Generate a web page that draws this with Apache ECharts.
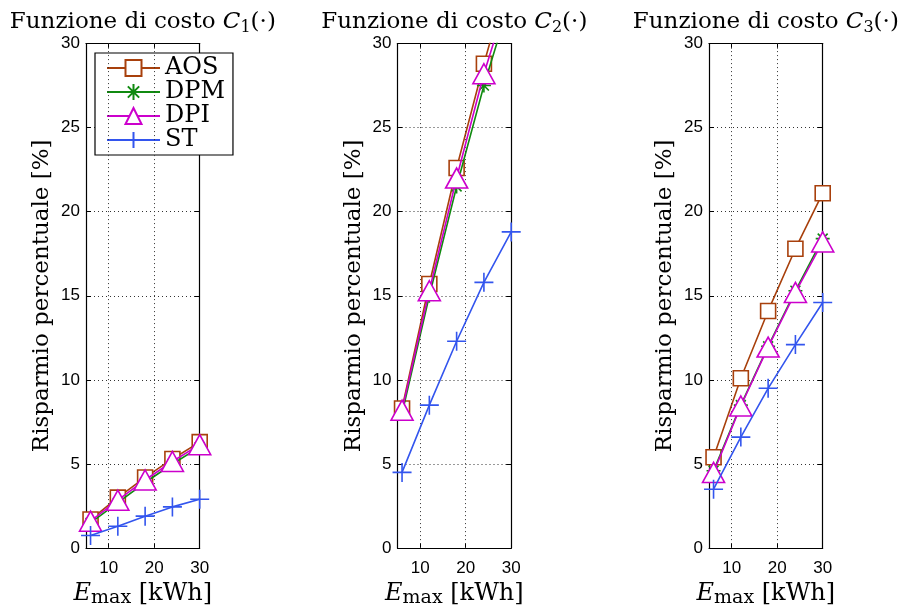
<!DOCTYPE html>
<html>
<head>
<meta charset="utf-8">
<script src="https://cdn.jsdelivr.net/npm/echarts@6/dist/echarts.min.js"></script>
<style>
  html, body { margin: 0; padding: 0; background: #fff; }
  #chart { width: 901px; height: 613px; }
</style>
</head>
<body>
<div id="chart"></div>
<script>
// Storage size (kWh) on the x axis, shared by all three panels
const eMax = [6, 12, 18, 24, 30];
const xTicks = [10, 20, 30];
const xGridLines = [10, 20];

// Percentage savings, cost function C1
const c1AOS = [1.7, 3.0, 4.2, 5.3, 6.3];
const c1DPM = [1.5, 2.7, 3.9, 5.0, 6.0];
const c1DPI = [1.6, 2.85, 4.05, 5.15, 6.15];
const c1ST  = [0.75, 1.3, 1.9, 2.45, 2.9];

// Percentage savings, cost function C2
const c2AOS = [8.3, 15.7, 22.6, 28.8, 34.5];
const c2DPM = [8.0, 15.0, 21.5, 27.5, 32.8];
const c2DPI = [8.2, 15.3, 22.0, 28.2, 33.4];
const c2ST  = [4.5, 8.5, 12.3, 15.8, 18.8];

// Percentage savings, cost function C3
const c3AOS = [5.4, 10.1, 14.1, 17.8, 21.1];
const c3DPM = [4.6, 8.5, 12.0, 15.3, 18.4];
const c3DPI = [4.5, 8.45, 11.95, 15.2, 18.2];
const c3ST  = [3.5, 6.6, 9.5, 12.1, 14.6];

const panelTitles = ['1', '2', '3'];
const methodNames = ['AOS', 'DPM', 'DPI', 'ST'];
const panelData = [
  [c1AOS, c1DPM, c1DPI, c1ST],
  [c2AOS, c2DPM, c2DPI, c2ST],
  [c3AOS, c3DPM, c3DPI, c3ST]
];

const SERIF = '"DejaVu Serif", "Liberation Serif", serif';
const SANS = '"Liberation Sans", Arial, sans-serif';

const colors = ['#a8400c', '#108a10', '#cc00cc', '#3355ee'];
const asterisk = 'path://M0,-10L0,10M-10,0L10,0M-7.07,-7.07L7.07,7.07M-7.07,7.07L7.07,-7.07';
const plus = 'path://M0,-10L0,10M-10,0L10,0';
const symbols = ['rect', asterisk, 'triangle', plus];
const symbolSizes = [15, 14, [22, 20], 19];
const fills = ['#fff', 'none', '#fff', 'none'];

const gridLefts = [86, 397.5, 709];
const plotW = 113.7, plotTop = 43.5, plotH = 508.5;

const grids = [], xAxes = [], yAxes = [], series = [], graphics = [];

gridLefts.forEach((left, i) => {
  grids.push({ left: left, top: plotTop, width: plotW, height: plotH, containLabel: false });

  // bottom x axis with labels
  xAxes.push({
    gridIndex: i, type: 'value', position: 'bottom', min: 5, max: 30,
    axisLine: { show: true, onZero: false, lineStyle: { color: '#000', width: 1.2 } },
    axisTick: { show: true, inside: true, length: 5, customValues: xTicks, lineStyle: { color: '#000' } },
    axisLabel: { show: true, customValues: xTicks, margin: 12, color: '#000', fontFamily: SANS, fontSize: 17 },
    splitLine: { show: false },
    name: '{e|E}{s|max}{t| [kWh]}',
    nameLocation: 'middle', nameGap: 29,
    nameTextStyle: {
      rich: {
        e: { fontFamily: SERIF, fontStyle: 'italic', fontSize: 24, lineHeight: 28, color: '#000' },
        s: { fontFamily: SERIF, fontSize: 19, lineHeight: 18, verticalAlign: 'bottom', color: '#000' },
        t: { fontFamily: SERIF, fontSize: 24, lineHeight: 28, color: '#000' }
      }
    }
  });
  // top x axis: box edge and ticks only
  xAxes.push({
    gridIndex: i, type: 'value', position: 'top', min: 5, max: 30,
    axisLine: { show: true, onZero: false, lineStyle: { color: '#000', width: 1.2 } },
    axisTick: { show: true, inside: true, length: 5, customValues: xTicks, lineStyle: { color: '#000' } },
    axisLabel: { show: false },
    splitLine: { show: false }
  });
  // left y axis with labels
  yAxes.push({
    gridIndex: i, type: 'value', position: 'left', min: 0, max: 30, interval: 5,
    axisLine: { show: true, onZero: false, lineStyle: { color: '#000', width: 1.2 } },
    axisTick: { show: true, inside: true, length: 5, lineStyle: { color: '#000' } },
    axisLabel: { show: true, margin: 6, color: '#000', fontFamily: SANS, fontSize: 17 },
    splitLine: { show: true, lineStyle: { color: '#333', width: 1, type: [1, 3] } },
    name: 'Risparmio percentuale [%]',
    nameLocation: 'middle', nameGap: 32,
    nameTextStyle: { fontFamily: SERIF, fontSize: 23, color: '#000' }
  });
  // right y axis: box edge and ticks only
  yAxes.push({
    gridIndex: i, type: 'value', position: 'right', min: 0, max: 30, interval: 5,
    axisLine: { show: true, onZero: false, lineStyle: { color: '#000', width: 1.2 } },
    axisTick: { show: true, inside: true, length: 5, lineStyle: { color: '#000' } },
    axisLabel: { show: false },
    splitLine: { show: false }
  });

  panelData[i].forEach((vals, k) => {
    const s = {
      name: methodNames[k],
      type: 'line',
      xAxisIndex: 2 * i, yAxisIndex: 2 * i,
      data: eMax.map((x, j) => [x, vals[j]]),
      symbol: symbols[k],
      symbolSize: symbolSizes[k],
      showAllSymbol: true,
      clip: true,
      lineStyle: { color: colors[k], width: 1.6 },
      itemStyle: { color: fills[k], borderColor: colors[k], borderWidth: 1.6 },
      emphasis: { disabled: true },
      animation: false,
      z: 3 + k
    };
    if (k === 0) {
      // dotted vertical grid lines at the inner x ticks
      s.markLine = {
        silent: true, symbol: 'none', animation: false,
        label: { show: false },
        lineStyle: { color: '#333', width: 1, type: [1, 3] },
        emphasis: { disabled: true },
        data: xGridLines.map(v => ({ xAxis: v }))
      };
    }
    series.push(s);
  });

  graphics.push({
    type: 'text',
    x: left + plotW / 2, y: 22,
    style: {
      text: '{t|Funzione di costo }{c|C}{s|' + panelTitles[i] + '}{t|(·)}',
      align: 'center', verticalAlign: 'middle',
      rich: {
        t: { fontFamily: SERIF, fontSize: 23, lineHeight: 28, fill: '#000' },
        c: { fontFamily: SERIF, fontStyle: 'italic', fontSize: 23, lineHeight: 28, fill: '#000' },
        s: { fontFamily: SERIF, fontSize: 16, lineHeight: 14, verticalAlign: 'bottom', fill: '#000' }
      }
    }
  });
});

const chart = echarts.init(document.getElementById('chart'), null, { renderer: 'canvas' });
chart.setOption({
  animation: false,
  backgroundColor: '#fff',
  grid: grids,
  xAxis: xAxes,
  yAxis: yAxes,
  series: series,
  graphic: graphics,
  legend: {
    data: methodNames,
    orient: 'vertical',
    left: 95, top: 53,
    padding: [3, 8, 3, 11],
    itemGap: 0,
    itemWidth: 53, itemHeight: 20,
    backgroundColor: '#fff',
    borderColor: '#000', borderWidth: 1.2,
    textStyle: { fontFamily: SERIF, fontSize: 24, lineHeight: 20, color: '#000', padding: [0, 0, 0, 0] },
    selectedMode: false
  }
});
</script>
</body>
</html>
